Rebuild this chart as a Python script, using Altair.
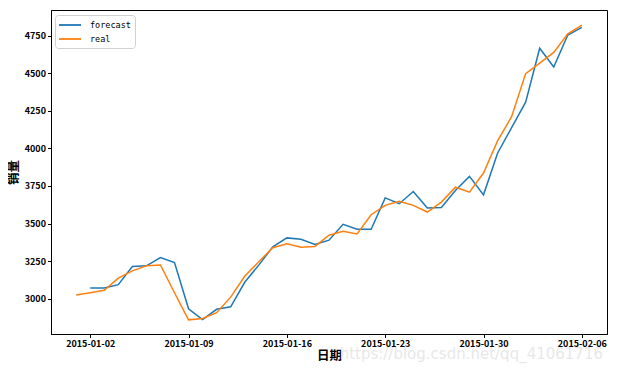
import altair as alt
import pandas as pd

# ---- data ----
real_start = "2015-01-01"
real_values = [3025, 3040, 3057, 3137, 3186, 3220, 3225, 3040, 2860, 2869,
               2908, 3011, 3150, 3246, 3340, 3366, 3343, 3348, 3423, 3449,
               3431, 3559, 3621, 3649, 3621, 3577, 3643, 3742, 3709, 3836,
               4050, 4211, 4497, 4567, 4638, 4761, 4820]
forecast_start = "2015-01-02"
forecast_values = [3072, 3072, 3094, 3215, 3219, 3274, 3241, 2934, 2862, 2930,
                   2947, 3110, 3224, 3346, 3405, 3396, 3361, 3390, 3495, 3462,
                   3462, 3671, 3632, 3713, 3603, 3607, 3720, 3814, 3691, 3968,
                   4138, 4307, 4666, 4541, 4754, 4805]
series_names = ["forecast", "real"]
series_colors = ["#1f77b4", "#ff7f0e"]
y_ticks = [3000, 3250, 3500, 3750, 4000, 4250, 4500, 4750]
x_tick_dates = [(1, 2), (1, 9), (1, 16), (1, 23), (1, 30), (2, 6)]

real_dates = pd.date_range(real_start, periods=len(real_values)).strftime("%Y-%m-%d").tolist()
fc_dates = pd.date_range(forecast_start, periods=len(forecast_values)).strftime("%Y-%m-%d").tolist()

df_fc = pd.DataFrame({"date": fc_dates, "value": forecast_values, "series": "forecast"})
df_real = pd.DataFrame({"date": real_dates, "value": real_values, "series": "real"})

FONT = "Noto Sans CJK SC"

x_enc = alt.X(
    "date:T",
    scale=alt.Scale(
        type="utc",
        domain=[alt.DateTime(year=2014, month=12, date=30, hours=5, utc=True),
                alt.DateTime(year=2015, month=2, date=7, hours=19, utc=True)],
    ),
    axis=alt.Axis(
        values=[alt.DateTime(year=2015, month=m, date=d, utc=True) for m, d in x_tick_dates],
        format="%Y-%m-%d",
        title="日期",
        grid=False,
    ),
)
y_enc = alt.Y(
    "value:Q",
    scale=alt.Scale(domain=[2766, 4920], nice=False, zero=False),
    axis=alt.Axis(values=y_ticks, format="d", title="销量", grid=False),
)
color_enc = alt.Color(
    "series:N",
    scale=alt.Scale(domain=series_names, range=series_colors),
    legend=alt.Legend(
        title=None,
        orient="none",
        legendX=4,
        legendY=5,
        symbolType="M-1.2,0H3.2",
        symbolSize=100,
        symbolStrokeWidth=1.8,
        labelFont="DejaVu Sans Mono",
        labelFontSize=8.5,
        labelColor="#000000",
        strokeColor="#d0d0d0",
        fillColor="white",
        cornerRadius=3,
        padding=4,
        rowPadding=3,
        labelOffset=19,
    ),
)

fc = alt.Chart(df_fc).mark_line(strokeWidth=1.5).encode(x=x_enc, y=y_enc, color=color_enc)
rl = alt.Chart(df_real).mark_line(strokeWidth=1.5).encode(x=x_enc, y=y_enc, color=color_enc)

wm = alt.Chart(pd.DataFrame({"t": ["https://blog.csdn.net/qq_41061716"]})).mark_text(
    font="DejaVu Sans", fontSize=15, color="#e8e8e8", align="right", baseline="middle"
).encode(text="t:N", x=alt.value(552), y=alt.value(344))

chart = (
    alt.layer(fc, rl, wm)
    .properties(
        width=556,
        height=324,
        autosize=alt.AutoSizeParams(type="none"),
        padding={"left": 43, "top": 2, "right": 4, "bottom": 30},
        background="white",
    )
    .configure_view(stroke="#000000", strokeWidth=1)
    .configure_axis(
        domainColor="#000000",
        tickColor="#000000",
        tickSize=3.5,
        labelFont=FONT,
        labelFontSize=9,
        labelFontWeight="bold",
        labelColor="#000000",
        titleFont=FONT,
        titleFontSize=12.5,
        titleFontWeight="bold",
        titleColor="#000000",
    )
    .configure_axisX(labelPadding=2, titlePadding=1)
    .configure_axisY(labelPadding=2, titlePadding=4)
)

chart.save("out.html", embed_options={"renderer": "svg", "actions": False})
